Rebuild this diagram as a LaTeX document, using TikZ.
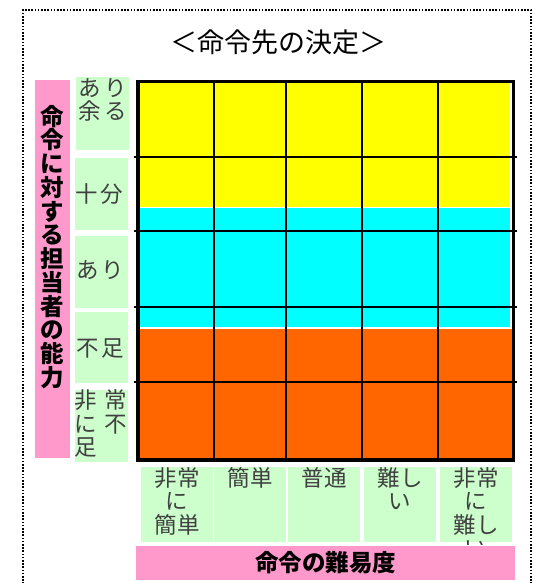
\documentclass[tikz,border=0pt]{standalone}
\usepackage{fontspec}
\newfontfamily\jp{Noto Sans CJK JP}
\definecolor{yfill}{HTML}{FFFF00}
\definecolor{cfill}{HTML}{00FFFF}
\definecolor{ofill}{HTML}{FF6600}
\definecolor{gcell}{HTML}{CCFFCC}
\definecolor{pbar}{HTML}{FF99CC}
\begin{document}
\begin{tikzpicture}[x=1pt,y=-1pt,
  gbox/.style={fill=gcell,draw=none,inner sep=0pt},
  pbox/.style={fill=pbar,draw=none,inner sep=0pt},
  celltext/.style={inner sep=0pt,font=\jp\fontsize{22.5}{23.5}\selectfont,text=black!75,align=center},
  bartext/.style={inner sep=0pt,font=\jp\bfseries\fontsize{23.5}{23.75}\selectfont,text=black,align=center},
  gridline/.style={line width=2pt,black},
  frameline/.style={line width=1.6pt,dash pattern=on 1.6pt off 1.6pt,black}]
\useasboundingbox (0,0) rectangle (536,583);
% outer dotted frame
\coordinate (fbl) at (23,600);
\coordinate (ftl) at (23,10);
\coordinate (ftr) at (531,10);
\coordinate (fbr) at (531,600);
\draw[frameline] (fbl) -- (ftl) -- (ftr) -- (fbr);
% title
\node[inner sep=0pt,font=\jp\fontsize{27}{27}\selectfont] (title) at (278.5,42) {＜命令先の決定＞};
% colour bands
\fill[yfill] (139,81) rectangle (510,207);
\fill[cfill] (139,207.5) rectangle (510,327);
\fill[ofill] (139,328.5) rectangle (512,458);
% grid
\foreach \gx in {214,286,362,438} \draw[gridline] (\gx,81) -- (\gx,459);
\foreach \gy in {157,231,307,382} \draw[gridline] (134,\gy) -- (517,\gy);
\draw[line width=3.5pt] (138,81.5) rectangle (513.5,460);
% left pink bar
\node[pbox,minimum width=35pt,minimum height=378pt] (lbar) at (52.5,269) {};
\node[bartext] (ltext) at (52.5,247) {命\\令\\に\\対\\す\\る\\担\\当\\者\\の\\能\\力};
% left green cells
\node[gbox,minimum width=53pt,minimum height=73pt] (lc1) at (102.5,113.5) {};
\node[gbox,minimum width=53pt,minimum height=72pt] (lc2) at (101.5,194) {};
\node[gbox,minimum width=53pt,minimum height=72pt] (lc3) at (101.5,272) {};
\node[gbox,minimum width=53pt,minimum height=71pt] (lc4) at (101.5,347.5) {};
\node[gbox,minimum width=53pt,minimum height=72pt] (lc5) at (101.5,426) {};
\node[celltext] (lt1) at (103,100) {\makebox[49pt][s]{あ\hfill り}\\\makebox[49pt][s]{余\hfill る}};
\node[celltext] (lt2) at (99,194) {\makebox[48pt][s]{十\hfill 分}};
\node[celltext] (lt3) at (100,270) {\makebox[48pt][s]{あ\hfill り}};
\node[celltext] (lt4) at (100,348) {\makebox[48pt][s]{不\hfill 足}};
\node[celltext,align=left] (lt5) at (101,423.5) {\makebox[53pt][s]{非\hfill 常}\\\makebox[53pt][s]{に\hfill 不}\\足};
% bottom green cells
\node[gbox,minimum width=72pt,minimum height=75pt] (bc1) at (177,504.5) {};
\node[gbox,minimum width=72pt,minimum height=75pt] (bc2) at (250,504.5) {};
\node[gbox,minimum width=72pt,minimum height=75pt] (bc3) at (324,504.5) {};
\node[gbox,minimum width=72pt,minimum height=75pt] (bc4) at (400,504.5) {};
\node[gbox,minimum width=72pt,minimum height=75pt] (bc5) at (476,504.5) {};
\node[celltext,anchor=north] (bt1) at (177,467) {非常\\に\\簡単};
\node[celltext,anchor=north] (bt2) at (250,467) {簡単};
\node[celltext,anchor=north] (bt3) at (324,467) {普通};
\node[celltext,anchor=north] (bt4) at (400,467) {難し\\い};
\begin{scope}
\clip (438,465) rectangle (514,544);
\node[celltext,anchor=north] (bt5) at (476,467) {非常\\に\\難し\\い};
\end{scope}
% bottom pink bar
\node[pbox,minimum width=379pt,minimum height=34pt] (bbar) at (325.5,563) {};
\node[bartext] (btext) at (325.5,563) {命令の難易度};
\end{tikzpicture}
\end{document}
